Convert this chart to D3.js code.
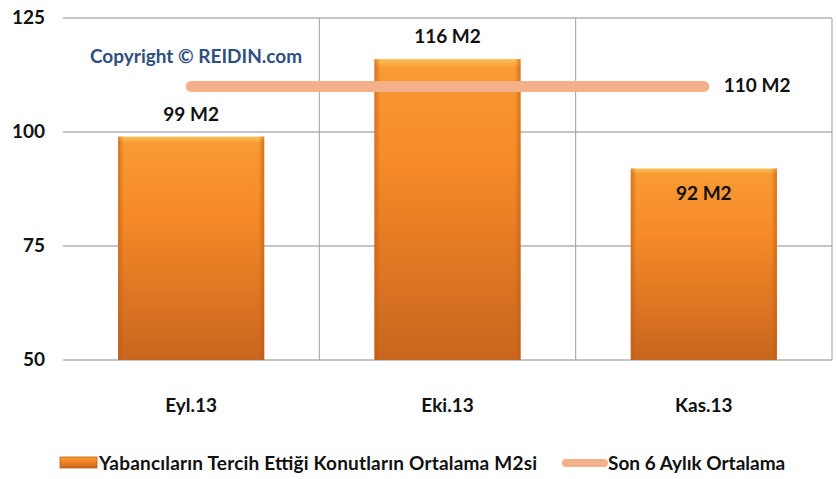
<!DOCTYPE html>
<html>
<head>
<meta charset="utf-8">
<script src="https://cdnjs.cloudflare.com/ajax/libs/d3/7.8.5/d3.min.js"></script>
<style>
  body { margin: 0; background: #fff; }
  svg text { font-family: Lato, "Open Sans", sans-serif; fill: #111; }
</style>
</head>
<body>
<svg id="chart"></svg>
<script>
// data
const months = ["Eyl.13", "Eki.13", "Kas.13"];
const avgM2 = [99, 116, 92];
const sixMonthAvg = [110, 110, 110];
const yTicks = [50, 75, 100, 125];
const seriesNames = ["Yabancıların Tercih Ettiği Konutların Ortalama M2si", "Son 6 Aylık Ortalama"];

var w = 837, h = 479;
var margin = { left: 63, right: 5, top: 18, bottom: 119 };
var svg = d3.select("#chart").attr("width", w).attr("height", h);

var x = d3.scaleBand()
    .domain(months)
    .range([margin.left, w - margin.right])
    .paddingInner(0.43)
    .paddingOuter(0.215);
var xGrid = d3.scaleBand().domain(months).range([margin.left, w - margin.right]);
var y = d3.scaleLinear().domain([50, 125]).range([h - margin.bottom, margin.top]);

// gradients
var defs = svg.append("defs");
var g1 = defs.append("linearGradient").attr("id", "barGrad").attr("x1", 0).attr("x2", 0).attr("y1", 0).attr("y2", 1);
g1.append("stop").attr("offset", "0%").attr("stop-color", "#fcc25a");
g1.append("stop").attr("offset", "3%").attr("stop-color", "#f99a33");
g1.append("stop").attr("offset", "35%").attr("stop-color", "#f68a28");
g1.append("stop").attr("offset", "100%").attr("stop-color", "#c9661e");
var g2 = defs.append("linearGradient").attr("id", "edgeGrad").attr("x1", 0).attr("x2", 1).attr("y1", 0).attr("y2", 0);
g2.append("stop").attr("offset", "0%").attr("stop-color", "#b85a14").attr("stop-opacity", 0.6);
g2.append("stop").attr("offset", "4%").attr("stop-color", "#b85a14").attr("stop-opacity", 0);
g2.append("stop").attr("offset", "96%").attr("stop-color", "#b85a14").attr("stop-opacity", 0);
g2.append("stop").attr("offset", "100%").attr("stop-color", "#b85a14").attr("stop-opacity", 0.6);

// grid
svg.selectAll(".hgrid").data(yTicks).enter().append("line")
    .attr("x1", margin.left).attr("x2", w - margin.right)
    .attr("y1", d => y(d)).attr("y2", d => y(d))
    .attr("stroke", "#8c8c8c").attr("stroke-width", 1);
svg.selectAll(".vgrid").data(months.slice(1)).enter().append("line")
    .attr("x1", d => xGrid(d)).attr("x2", d => xGrid(d))
    .attr("y1", y(125)).attr("y2", y(50))
    .attr("stroke", "#a0a0a0").attr("stroke-width", 1);
svg.append("line")
    .attr("x1", w - margin.right).attr("x2", w - margin.right)
    .attr("y1", y(125)).attr("y2", y(50))
    .attr("stroke", "#a0a0a0");

var fs = "19px";

// y labels
svg.selectAll(".ylab").data(yTicks).enter().append("text")
    .attr("x", 45).attr("y", d => y(d) + 6)
    .attr("text-anchor", "end")
    .style("font-size", fs).style("font-weight", "bold")
    .text(d => d);

// copyright
svg.append("text")
    .attr("x", 90).attr("y", 63)
    .style("font-size", fs).style("font-weight", "bold")
    .style("fill", "#2f4f7f")
    .text("Copyright © REIDIN.com");

// bars
var bars = svg.selectAll(".bar").data(avgM2).enter().append("g");
bars.append("rect")
    .attr("x", (d, i) => x(months[i]))
    .attr("y", d => y(d))
    .attr("width", x.bandwidth())
    .attr("height", d => y(50) - y(d))
    .attr("fill", "url(#barGrad)");
bars.append("rect")
    .attr("x", (d, i) => x(months[i]))
    .attr("y", d => y(d))
    .attr("width", x.bandwidth())
    .attr("height", d => y(50) - y(d))
    .attr("fill", "url(#edgeGrad)");

// average line
var line = d3.line()
    .x((d, i) => x(months[i]) + x.bandwidth() / 2)
    .y(d => y(d));
svg.append("path")
    .datum(sixMonthAvg)
    .attr("d", line)
    .attr("fill", "none")
    .attr("stroke", "#f4b08a")
    .attr("stroke-width", 11)
    .attr("stroke-linecap", "round");

// bar labels
bars.append("text")
    .attr("x", (d, i) => x(months[i]) + x.bandwidth() / 2)
    .attr("y", (d, i) => i == 2 ? y(d) + 32 : y(d) - 16)
    .attr("text-anchor", "middle")
    .style("font-size", fs).style("font-weight", "bold")
    .text(d => d + " M2");

svg.append("text")
    .attr("x", x(months[2]) + x.bandwidth() / 2 + 20)
    .attr("y", y(sixMonthAvg[2]) + 6)
    .style("font-size", fs).style("font-weight", "bold")
    .text(sixMonthAvg[2] + " M2");

// x labels
svg.selectAll(".xlab").data(months).enter().append("text")
    .attr("x", d => x(d) + x.bandwidth() / 2)
    .attr("y", y(50) + 52)
    .attr("text-anchor", "middle")
    .style("font-size", fs).style("font-weight", "bold")
    .text(d => d);

// legend
var ly = 463;
svg.append("rect").attr("x", 60).attr("y", ly - 6).attr("width", 37).attr("height", 11)
    .attr("fill", "url(#barGrad)").attr("stroke", "#b86318").attr("stroke-width", 0.8);
svg.append("text").attr("x", 99).attr("y", ly + 7)
    .style("font-size", fs).style("font-weight", "bold")
    .attr("textLength", 438)
    .text(seriesNames[0]);
svg.append("line").attr("x1", 566).attr("x2", 604).attr("y1", ly).attr("y2", ly)
    .attr("stroke", "#f4b08a").attr("stroke-width", 8).attr("stroke-linecap", "round");
svg.append("text").attr("x", 608).attr("y", ly + 7)
    .style("font-size", fs).style("font-weight", "bold")
    .text(seriesNames[1]);
</script>
</body>
</html>
